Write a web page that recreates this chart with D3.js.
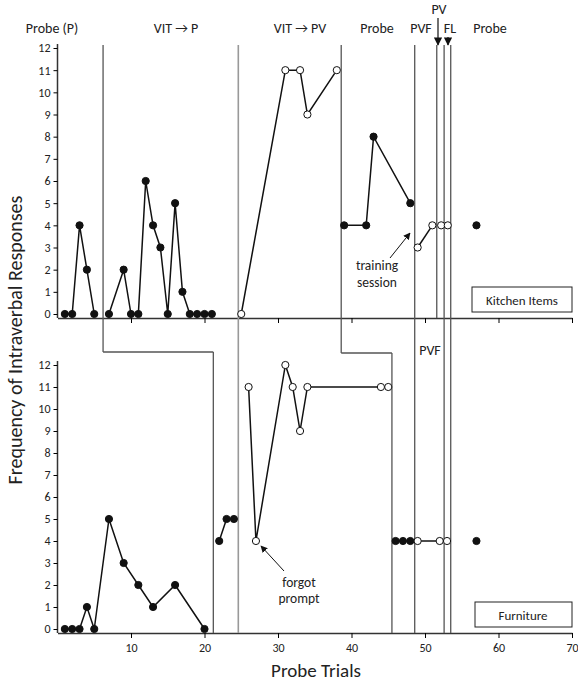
<!DOCTYPE html><html><head><meta charset="utf-8"><script src="https://cdn.jsdelivr.net/npm/d3@7"></script>
<style>body{margin:0;background:#fff}text{font-family:Calibri,Carlito,"Open Sans",sans-serif;fill:#222}</style></head><body><svg id="c" width="578" height="685"></svg>
<script>
const xTicks=[10,20,30,40,50,60,70];
const yTicks=[0,1,2,3,4,5,6,7,8,9,10,11,12];
// Kitchen items
const kProbe1=[[1,0],[2,0],[3,4],[4,2],[5,0]];
const kVitP=[[7,0],[9,2],[10,0],[11,0],[12,6],[13,4],[14,3],[15,0],[16,5],[17,1],[18,0],[19,0],[20,0],[21,0]];
const kVitPV=[[25,0],[31,11],[33,11],[34,9],[38,11]];
const kProbe2=[[39,4],[42,4],[43,8],[48,5]];
const kPVF=[[49,3],[51,4]];
const kPVFL=[[52.2,4],[53.1,4]];
const kProbe3=[[57,4]];
// Furniture
const fProbe1=[[1,0],[2,0],[3,0],[4,1],[5,0],[7,5],[9,3],[11,2],[13,1],[16,2],[20,0]];
const fVitP=[[22,4],[23,5],[24,5]];
const fVitPV=[[26,11],[27,4],[31,12],[32,11],[33,9],[34,11],[44,11],[45,11]];
const fProbe2=[[46,4],[47,4],[48,4]];
const fPVF=[[49,4],[52,4],[53,4]];
const fProbe3=[[57,4]];
const svg=d3.select("#c");
const x=d3.scaleLinear().domain([0,70]).range([57.5,572]);
const yT=d3.scaleLinear().domain([0,12]).range([314,48]);
const yB=d3.scaleLinear().domain([0,12]).range([629,365]);
function axes(y,bottom,labels){
  svg.append("g").attr("transform",`translate(0,${bottom})`).call(d3.axisBottom(x).tickValues(xTicks).tickSize(5).tickSizeOuter(0).tickFormat(labels?d3.format("d"):""))
   .call(g=>{g.select(".domain").attr("stroke","#333").attr("stroke-width",1.5);g.selectAll("text").style("font-size","12px").attr("dy","0.9em")});
  svg.append("g").attr("transform",`translate(57.5,0)`).call(d3.axisLeft(y).tickValues(yTicks).tickSize(4).tickSizeOuter(0))
   .call(g=>{g.select(".domain").attr("stroke","#333").attr("stroke-width",1.5).attr("d",`M0,${bottom}V${y(12)-4}`);g.selectAll("text").style("font-size","12px")});
}
axes(yT,318,false);axes(yB,633,true);
const ln=(x1,y1,x2,y2,c="#555",w=1.3)=>svg.append("line").attr("x1",x1).attr("y1",y1).attr("x2",x2).attr("y2",y2).attr("stroke",c).attr("stroke-width",w);
ln(x(6.2),45,x(6.2),352);ln(x(6.2),352,x(21.2),352);ln(x(21.2),352,x(21.2),633);
ln(x(24.6),45,x(24.6),633,"#999",1.6);
ln(x(38.6),45,x(38.6),353);ln(x(38.6),353,x(45.5),353);ln(x(45.5),353,x(45.5),633);
ln(x(48.6),45,x(48.6),633);ln(x(51.6),45,x(51.6),318);
ln(x(52.6),45,x(52.6),633);ln(x(53.5),45,x(53.5),633);
function series(d,y,open,line=true){
  if(line&&d.length>1)svg.append("path").datum(d).attr("fill","none").attr("stroke","#111").attr("stroke-width",1.5).attr("d",d3.line().x(p=>x(p[0])).y(p=>y(p[1])));
  svg.selectAll(null).data(d).enter().append("circle").attr("cx",p=>x(p[0])).attr("cy",p=>y(p[1])).attr("r",3.6)
   .attr("fill",open?"#fff":"#111").attr("stroke","#111").attr("stroke-width",1);
}
series(kProbe1,yT,false);series(kVitP,yT,false);series(kVitPV,yT,true);series(kProbe2,yT,false);
series(kPVF,yT,true);series(kPVFL,yT,true,false);series(kProbe3,yT,false);
series(fProbe1,yB,false);series(fVitP,yB,false);series(fVitPV,yB,true);series(fProbe2,yB,false,false);series(fPVF,yB,true);series(fProbe3,yB,false);
const t=(s,xx,yy,fs=14,a="middle")=>svg.append("text").attr("x",xx).attr("y",yy).attr("text-anchor",a).style("font-size",fs+"px").text(s);
t("Probe (P)",52,33);t("VIT \u2192 P",176,33);t("VIT \u2192 PV",300,33);t("Probe",377,33);t("PVF",421,33);t("PV",439,14);t("FL",450,33);t("Probe",490,33);
t("PVF",430,355);
t("training",377,270,13.5);t("session",377,287,13.5);
t("forgot",299,587,13.5);t("prompt",299,603,13.5);
svg.append("defs").append("marker").attr("id","ah").attr("viewBox","0 0 10 10").attr("refX",9).attr("refY",5).attr("markerWidth",7).attr("markerHeight",7).attr("orient","auto").append("path").attr("d","M0,0L10,5L0,10z").attr("fill","#111");
ln(390,258,410,233,"#111",1).attr("marker-end","url(#ah)");
ln(284,571,261,546,"#111",1).attr("marker-end","url(#ah)");
ln(438,18,438,45,"#111",1.2).attr("marker-end","url(#ah)");
ln(448,37,448,45,"#111",1.2).attr("marker-end","url(#ah)");
svg.append("rect").attr("x",472).attr("y",287).attr("width",100).attr("height",25).attr("fill","#fff").attr("stroke","#222");
t("Kitchen Items",522,305,13);
svg.append("rect").attr("x",475).attr("y",602).attr("width",97).attr("height",25).attr("fill","#fff").attr("stroke","#222");
t("Furniture",523,620,13);
svg.append("text").attr("transform","translate(22,340) rotate(-90)").attr("text-anchor","middle").style("font-size","20px").text("Frequency of Intraverbal Responses");
t("Probe Trials",316,677,19);
</script></body></html>
